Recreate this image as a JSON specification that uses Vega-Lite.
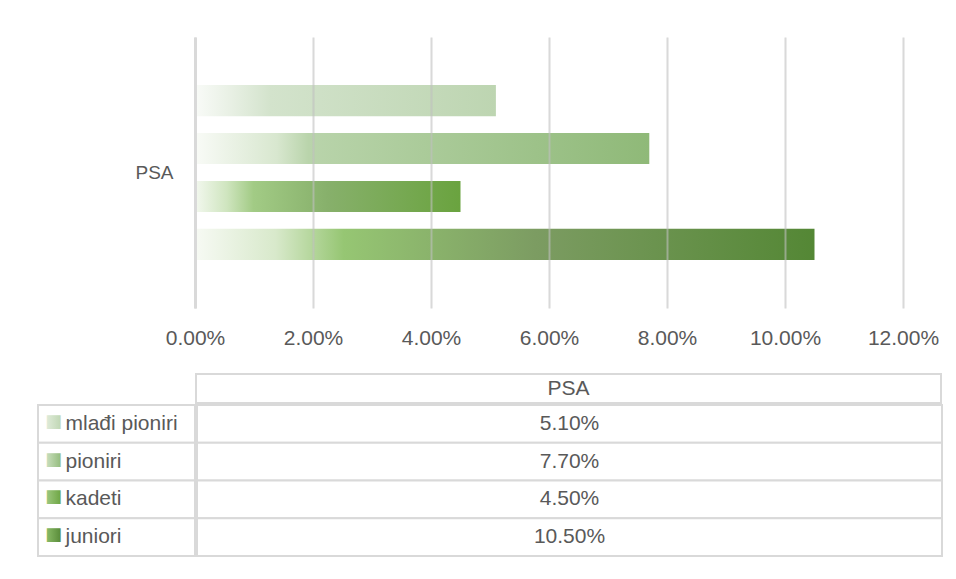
{
  "$schema": "https://vega.github.io/schema/vega-lite/v6.json",
  "background": "white",
  "padding": {"left": 37, "top": 37, "right": 0, "bottom": 0},
  "config": {
    "view": {"stroke": null},
    "font": "Liberation Sans",
    "text": {"font": "Liberation Sans"}
  },
  "datasets": {
    "d": [
      {"group": "PSA", "category": "mlađi pioniri", "value": 0.051},
      {"group": "PSA", "category": "pioniri", "value": 0.077},
      {"group": "PSA", "category": "kadeti", "value": 0.045},
      {"group": "PSA", "category": "juniori", "value": 0.105}
    ]
  },
  "spacing": 25,
  "vconcat": [
    {
      "spacing": 0,
      "bounds": "flush",
      "hconcat": [
        {
          "width": 157, "height": 271,
          "data": {"name": "d"},
          "transform": [{"aggregate": [{"op": "count", "as": "n"}], "groupby": ["group"]}],
          "mark": {"type": "text", "align": "right", "dx": 57, "fontSize": 19, "color": "#595959", "font": "Liberation Sans"},
          "encoding": {
            "y": {"field": "group", "type": "nominal", "scale": {"paddingInner": 0, "paddingOuter": 0}, "axis": null},
            "text": {"field": "group"}
          }
        },
        {
          "width": 708,
          "height": 271,
          "data": {"name": "d"},
          "encoding": {
            "y": {
              "field": "group", "type": "nominal",
              "scale": {"paddingInner": 0, "paddingOuter": 0},
              "axis": {"title": null, "labels": false, "domain": true, "domainColor": "#d9d9d9", "domainWidth": 3, "ticks": false,
                       "minExtent": 0, "maxExtent": 0, "zindex": 1}
            },
            "yOffset": {
              "field": "category", "type": "nominal",
              "sort": ["mlađi pioniri", "pioniri", "kadeti", "juniori"],
              "scale": {"paddingInner": 0.35, "paddingOuter": 1.04}
            },
            "x": {
              "field": "value", "type": "quantitative",
              "scale": {"domain": [0, 0.12], "nice": false},
              "axis": {"title": null, "format": ".2%", "values": [0, 0.02, 0.04, 0.06, 0.08, 0.1, 0.12], "labelFlush": false,
                       "domain": false, "ticks": false, "grid": true, "gridColor": "#bfbfbf", "gridOpacity": 0.6, "gridWidth": 2,
                       "labelFontSize": 21, "labelColor": "#595959", "labelFont": "Liberation Sans", "labelPadding": 19, "zindex": 1}
            }
          },
          "layer": [
            {
              "transform": [{"filter": "datum.category === 'mlađi pioniri'"}],
              "mark": {"type": "bar", "color": {"gradient": "linear", "x1": 0, "y1": 0, "x2": 1, "y2": 0,
                "stops": [{"offset": 0, "color": "#f9fbf8"}, {"offset": 0.12, "color": "#e8f0e4"}, {"offset": 0.25, "color": "#d3e3cc"}, {"offset": 1, "color": "#bdd5b1"}]}}
            },
            {
              "transform": [{"filter": "datum.category === 'pioniri'"}],
              "mark": {"type": "bar", "color": {"gradient": "linear", "x1": 0, "y1": 0, "x2": 1, "y2": 0,
                "stops": [{"offset": 0, "color": "#f9fbf7"}, {"offset": 0.18, "color": "#d8e7cf"}, {"offset": 0.25, "color": "#b9d4ab"}, {"offset": 1, "color": "#8fb978"}]}}
            },
            {
              "transform": [{"filter": "datum.category === 'kadeti'"}],
              "mark": {"type": "bar", "color": {"gradient": "linear", "x1": 0, "y1": 0, "x2": 1, "y2": 0,
                "stops": [{"offset": 0, "color": "#f3f8ef"}, {"offset": 0.12, "color": "#cfe5bf"}, {"offset": 0.22, "color": "#a2cb85"}, {"offset": 0.5, "color": "#87b06b"}, {"offset": 1, "color": "#6aa33f"}]}}
            },
            {
              "transform": [{"filter": "datum.category === 'juniori'"}],
              "mark": {"type": "bar", "color": {"gradient": "linear", "x1": 0, "y1": 0, "x2": 1, "y2": 0,
                "stops": [{"offset": 0, "color": "#f7faf4"}, {"offset": 0.13, "color": "#d8e9cb"}, {"offset": 0.24, "color": "#96c673"}, {"offset": 0.55, "color": "#7c9c62"}, {"offset": 1, "color": "#548735"}]}}
            }
          ]
        }
      ]
    },
    {
      "spacing": 0,
      "vconcat": [
        {
          "spacing": 0,
          "hconcat": [
            {
              "width": 157, "height": 29,
              "data": {"name": "d"},
              "transform": [{"aggregate": [{"op": "count", "as": "n"}], "groupby": ["group"]}],
              "mark": {"type": "text", "opacity": 0},
              "encoding": {"text": {"field": "group"}}
            },
            {
              "width": 745, "height": 29,
              "view": {"stroke": "#d9d9d9", "strokeWidth": 2},
              "data": {"name": "d"},
              "transform": [{"aggregate": [{"op": "count", "as": "n"}], "groupby": ["group"]}],
              "mark": {"type": "text", "fontSize": 21, "color": "#595959", "font": "Liberation Sans"},
              "encoding": {"text": {"field": "group"}}
            }
          ]
        },
        {
          "spacing": 0,
          "hconcat": [
            {
              "width": 157, "height": 151,
              "data": {"name": "d"},
              "encoding": {
                "y": {"field": "category", "type": "nominal", "sort": ["mlađi pioniri", "pioniri", "kadeti", "juniori"],
                      "scale": {"paddingInner": 0, "paddingOuter": 0}, "axis": null}
              },
              "layer": [
                {"mark": {"type": "rect", "fill": "white", "stroke": "#d9d9d9", "strokeWidth": 2}},
                {"mark": {"type": "text", "align": "left", "dx": -51, "fontSize": 21, "color": "#595959", "font": "Liberation Sans"},
                 "encoding": {"text": {"field": "category"}}},
                {"transform": [{"filter": "datum.category === 'mlađi pioniri'"}],
                 "mark": {"type": "text", "text": "■", "font": "DejaVu Sans", "fontSize": 18, "dx": -63, "dy": -2,
                   "fill": {"gradient": "linear", "x1": 0, "y1": 0, "x2": 1, "y2": 0, "stops": [{"offset": 0, "color": "#e3eddd"}, {"offset": 1, "color": "#bdd5b1"}]}}},
                {"transform": [{"filter": "datum.category === 'pioniri'"}],
                 "mark": {"type": "text", "text": "■", "font": "DejaVu Sans", "fontSize": 18, "dx": -63, "dy": -2,
                   "fill": {"gradient": "linear", "x1": 0, "y1": 0, "x2": 1, "y2": 0, "stops": [{"offset": 0, "color": "#cfe2c4"}, {"offset": 1, "color": "#8fb978"}]}}},
                {"transform": [{"filter": "datum.category === 'kadeti'"}],
                 "mark": {"type": "text", "text": "■", "font": "DejaVu Sans", "fontSize": 18, "dx": -63, "dy": -2,
                   "fill": {"gradient": "linear", "x1": 0, "y1": 0, "x2": 1, "y2": 0, "stops": [{"offset": 0, "color": "#a2cb85"}, {"offset": 1, "color": "#6aa33f"}]}}},
                {"transform": [{"filter": "datum.category === 'juniori'"}],
                 "mark": {"type": "text", "text": "■", "font": "DejaVu Sans", "fontSize": 18, "dx": -63, "dy": -2,
                   "fill": {"gradient": "linear", "x1": 0, "y1": 0, "x2": 1, "y2": 0, "stops": [{"offset": 0, "color": "#8fc06c"}, {"offset": 1, "color": "#548735"}]}}}
              ]
            },
            {
              "width": 745, "height": 151,
              "data": {"name": "d"},
              "encoding": {
                "y": {"field": "category", "type": "nominal", "sort": ["mlađi pioniri", "pioniri", "kadeti", "juniori"],
                      "scale": {"paddingInner": 0, "paddingOuter": 0}, "axis": null}
              },
              "layer": [
                {"mark": {"type": "rect", "fill": "white", "stroke": "#d9d9d9", "strokeWidth": 2}},
                {"mark": {"type": "text", "fontSize": 21, "color": "#595959", "font": "Liberation Sans"},
                 "encoding": {"text": {"field": "value", "format": ".2%"}}}
              ]
            }
          ]
        }
      ]
    }
  ]
}
